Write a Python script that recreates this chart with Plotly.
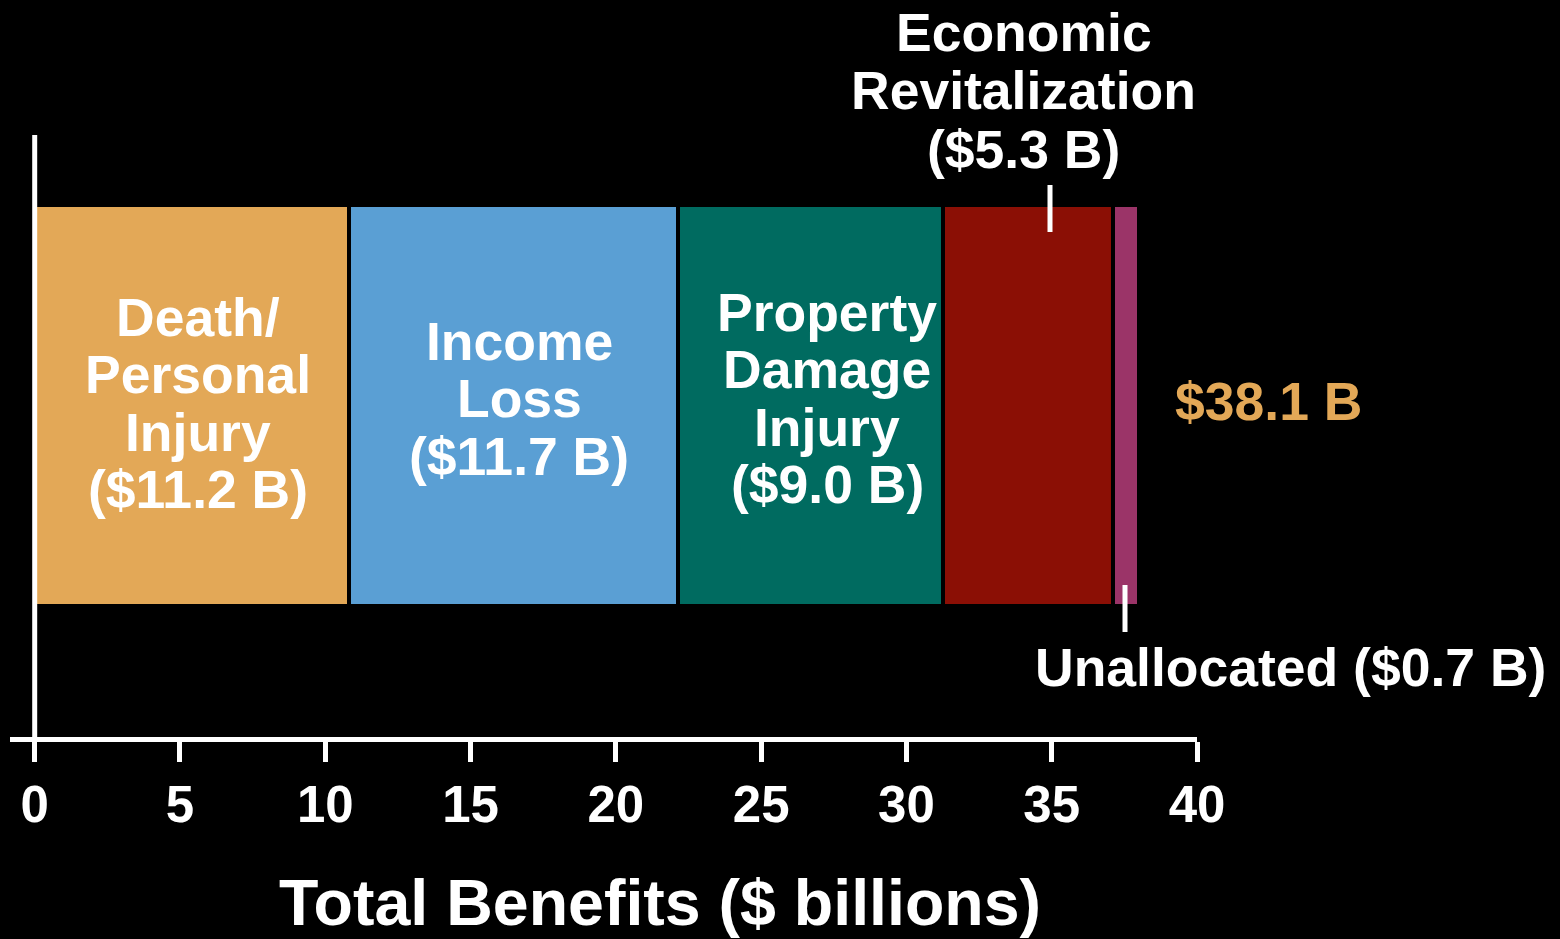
import plotly.graph_objects as go

# ---- data ----
categories = ["Death/Personal Injury", "Income Loss", "Property Damage Injury",
              "Economic Revitalization", "Unallocated"]
bar_values = [10.8, 11.35, 9.1, 5.85, 0.9]          # drawn segment widths ($ billions)
label_values = ["$11.2 B", "$11.7 B", "$9.0 B", "$5.3 B", "$0.7 B"]
total_label = "$38.1 B"
colors = ["#E3A857", "#5A9FD4", "#006B60", "#8B0F05", "#9B3468"]
tick_vals = [0, 5, 10, 15, 20, 25, 30, 35, 40]
tick_text = ["0", "5", "10", "15", "20", "25", "30", "35", "40"]
label_lines = [
    ["Death/", "Personal", "Injury", "($11.2 B)"],
    ["Income", "Loss", "($11.7 B)"],
    ["Property", "Damage", "Injury", "($9.0 B)"],
    ["Economic", "Revitalization", "($5.3 B)"],
    ["Unallocated ($0.7 B)"],
]
axis_title = "Total Benefits ($ billions)"

# ---- layout geometry (pixels) ----
W, H = 1560, 939
L, R, T, B = 10, 1197, 135, 737
FONT = "Liberation Sans, Arial, sans-serif"


def pxx(x):
    return (x - L) / (R - L)


def pxy(y):
    return (B - y) / (B - T)


fig = go.Figure()
for name, v, c in zip(categories, bar_values, colors):
    fig.add_trace(go.Bar(
        y=[B - 405.5], x=[v], orientation="h", width=[401], name=name,
        marker=dict(color=c, line=dict(color="black", width=4)),
        hoverinfo="x+name",
    ))

annotations = []


def add_block(lines, xc, y0, spacing, color="white", size=53.5):
    for i, ln in enumerate(lines):
        annotations.append(dict(
            text=ln, x=pxx(xc), y=pxy(y0 + i * spacing), xref="paper", yref="paper",
            xanchor="center", yanchor="middle", showarrow=False,
            font=dict(family=FONT, size=size, color=color, weight="bold"),
        ))


add_block(label_lines[0], 198, 317, 57.5)
add_block(label_lines[1], 519, 341, 57.5)
add_block(label_lines[2], 827, 312, 57.5)
add_block(label_lines[3], 1024, 33, 58)
add_block(label_lines[4], 1290, 667, 57)
add_block([total_label], 1268, 401, 57, color=colors[0])
add_block([axis_title], 660, 903, 60, size=64.5)

shapes = [
    # vertical axis line at x=0
    dict(type="line", xref="x", yref="paper", x0=0, x1=0, y0=0, y1=1,
         line=dict(color="white", width=5)),
    # pointer ticks
    dict(type="line", xref="paper", yref="paper", x0=pxx(1050), x1=pxx(1050),
         y0=pxy(185), y1=pxy(232), line=dict(color="white", width=5)),
    dict(type="line", xref="paper", yref="paper", x0=pxx(1125), x1=pxx(1125),
         y0=pxy(585), y1=pxy(632), line=dict(color="white", width=5)),
]

fig.update_layout(
    width=W, height=H,
    barmode="stack", bargap=0,
    showlegend=False,
    paper_bgcolor="black", plot_bgcolor="black",
    margin=dict(l=L, r=W - R, t=T, b=H - B, pad=0),
    xaxis=dict(range=[-0.85, 40], tickvals=tick_vals, ticktext=tick_text,
               ticks="outside", ticklen=20, tickwidth=5, tickcolor="white",
               showline=True, linecolor="white", linewidth=5,
               showgrid=False, zeroline=False, fixedrange=True,
               ticklabelstandoff=-1,
               tickfont=dict(family=FONT, size=51, color="white", weight="bold")),
    yaxis=dict(range=[0, B - T], visible=False, fixedrange=True),
    annotations=annotations,
    shapes=shapes,
)

fig.write_html(
    "out.html",
    config={"displayModeBar": False},
    post_script="document.body.style.margin='0';document.body.style.background='black';",
)
